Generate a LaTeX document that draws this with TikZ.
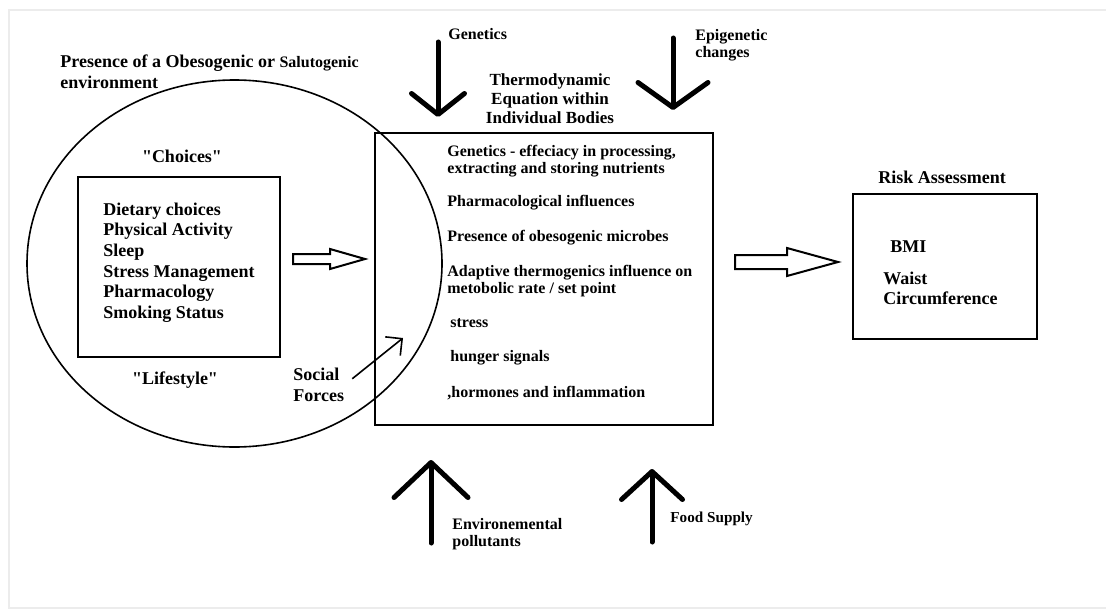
\documentclass[tikz,border=0pt]{standalone}
\usepackage{fontspec}
\setmainfont{Liberation Serif}[Ligatures=TeXOff]
\usetikzlibrary{arrows.meta,shapes.geometric}

\tikzset{
  txt/.style={inner sep=0pt, font=\bfseries\fontsize{8}{8.5}\selectfont, align=left},
  bigtxt/.style={inner sep=0pt, font=\bfseries\fontsize{9}{10.3}\selectfont, align=left},
  frame/.style={draw, line width=1pt, inner sep=0pt},
  heavy/.style 2 args={line width=2.5pt, line cap=round,
    -{Straight Barb[round, length=#1, width=#2]}},
  hollow/.style={draw, line width=1pt, line join=miter}
}

\begin{document}
\begin{tikzpicture}[x=.5pt,y=-.5pt]
    \useasboundingbox (0,0) rectangle (1106,610);
    %% page edge
    \draw[gray!15, line width=1pt] (1106,10) -- (9,10) -- (9,608) -- (1106,608);

    %% environment circle
    \node[draw, ellipse, line width=.8pt, minimum width=207.5pt, minimum height=183.5pt,
          inner sep=0pt] (envcirc) at (234.5,263.5) {};
    \node[bigtxt, anchor=west] (envtitle) at (60,72)
        {Presence of a Obesogenic or {\fontsize{8}{10}\selectfont Salutogenic}\\environment};

    %% lifestyle box
    \node[frame, minimum width=101pt, minimum height=90pt] (lifebox) at (179,267) {};
    \node[bigtxt, anchor=west] (lifeitems) at (103,262.5)
        {Dietary choices\\Physical Activity\\Sleep\\Stress Management\\Pharmacology\\Smoking Status};
    \node[bigtxt] (choices) at (182,156) {"Choices"};
    \node[bigtxt] (lifestyle) at (175,380) {"Lifestyle"};

    \draw[hollow] (293,254) -- (330,254) -- (330,249) -- (365,259)
        -- (330,269) -- (330,264) -- (293,264) -- cycle;

    %% social forces
    \node[bigtxt, anchor=west] (social) at (293,385) {Social\\Forces};
    \coordinate (socialtip) at (403,338);
    \draw[line width=.8pt, shorten <=5pt, -{Straight Barb[length=6pt, width=12pt]}]
        (social.east) -- (socialtip);

    %% thermodynamic box
    \node[frame, minimum width=169pt, minimum height=146pt] (thermo) at (544,279) {};
    \node[inner sep=0pt, font=\bfseries\fontsize{8.5}{9.6}\selectfont, align=center]
        (thermotitle) at (550,99) {Thermodynamic\\Equation within\\Individual Bodies};

    \node[txt, anchor=west] (t1) at (447,161.5) {Genetics - effeciacy in processing,\\extracting and storing nutrients};
    \node[txt, anchor=west] (t2) at (447,203) {Pharmacological influences};
    \node[txt, anchor=west] (t3) at (447,238) {Presence of obesogenic microbes};
    \node[txt, anchor=west] (t4) at (447,281) {Adaptive thermogenics influence on\\metobolic rate / set point};
    \node[txt, anchor=west] (t5) at (450,323) {stress};
    \node[txt, anchor=west] (t6) at (450,358) {hunger signals};
    \node[txt, anchor=west] (t7) at (447,393) {,hormones and inflammation};

    %% influences from above
    \node[txt, anchor=west] (genetics) at (448,34) {Genetics};
    \coordinate (genS) at (438,42);
    \coordinate (genT) at (438,117);
    \draw[heavy={10.5pt}{26.5pt}] (genS) -- (genT);

    \node[txt, anchor=west] (epigen) at (695,45.5) {Epigenetic\\changes};
    \coordinate (epiS) at (673,38);
    \coordinate (epiT) at (673,110);
    \draw[heavy={12.5pt}{35pt}] (epiS) -- (epiT);

    %% influences from below
    \node[txt, anchor=west] (pollut) at (452,534) {Environemental\\pollutants};
    \coordinate (envS) at (431,543);
    \coordinate (envT) at (431,460);
    \draw[heavy={17.5pt}{37pt}] (envS) -- (envT);

    \node[txt, anchor=west, font=\bfseries\fontsize{7.6}{8.5}\selectfont] (food) at (670,519) {Food Supply};
    \coordinate (foodS) at (652,542);
    \coordinate (foodT) at (652,469);
    \draw[heavy={14pt}{30.5pt}] (foodS) -- (foodT);

    %% risk assessment
    \draw[hollow] (735,255) -- (787,255) -- (787,248) -- (838,262)
        -- (787,276) -- (787,269) -- (735,269) -- cycle;
    \node[frame, minimum width=92pt, minimum height=72.5pt] (risk) at (945,266.5) {};
    \node[bigtxt] (risktitle) at (942,177) {Risk Assessment};
    \node[bigtxt, anchor=west] (bmi) at (890,247) {BMI};
    \node[bigtxt, anchor=west] (waist) at (883,288.5) {Waist\\Circumference};
\end{tikzpicture}
\end{document}
